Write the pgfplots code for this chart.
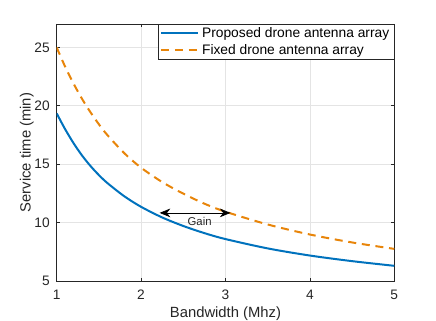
\documentclass[border=0pt]{standalone}
\usepackage{fontspec}
\setmainfont{Liberation Sans}
\usepackage{pgfplots}
\pgfplotsset{compat=1.18}
\usetikzlibrary{arrows.meta}
\definecolor{mblue}{RGB}{0,114,189}
\definecolor{morange}{RGB}{232,133,10}
\definecolor{axgray}{RGB}{38,38,38}
\definecolor{gridgray}{RGB}{228,228,228}
\begin{document}
\begin{tikzpicture}
\begin{axis}[
  name=ax,
  scale only axis, width=253.2pt, height=192.75pt,
  xmin=1, xmax=5, ymin=5, ymax=27,
  xtick={1,2,3,4,5}, ytick={5,10,15,20,25},
  tick align=inside, tick pos=both, major tick length=2.5pt,
  axis line style={axgray, line width=0.5pt},
  every tick/.style={axgray, line width=0.5pt},
  grid=major, major grid style={gridgray, line width=0.5pt},
  /pgf/number format/assume math mode=true,
  tick label style={font=\fontsize{10.3}{12}\selectfont, text=axgray},
  yticklabel style={xshift=-1.7pt},
  xticklabel style={yshift=-3.4pt},
  xlabel={Bandwidth (Mhz)}, ylabel={Service time (min)},
  label style={font=\fontsize{11.1}{13}\selectfont, text=axgray},
  xlabel style={at={([yshift=-27.2pt]axis description cs:0.5,0)}, anchor=base},
  ylabel style={at={([xshift=-19.5pt]axis description cs:0,0.5)}, anchor=base, rotate=0},
  legend style={at={(1,1)}, anchor=north east, draw=axgray, line width=0.5pt, fill=white,
    font=\fontsize{10.35}{12}\selectfont, inner xsep=1pt, inner ysep=0.5pt,
    nodes={inner xsep=2.5pt, inner ysep=1.8pt}},
  legend cell align=left,
  legend image code/.code={\draw[#1] (0pt,0pt) -- (27.5pt,0pt);},
]
\addplot[mblue, line width=1.5pt, smooth, tension=0.5] coordinates {
(1,19.35) (1.1,18.0) (1.2,16.8) (1.3,15.75) (1.4,14.85) (1.5,14.07) (1.6,13.39) (1.8,12.26) (2,11.35) (2.25,10.44) (2.5,9.71) (2.75,9.10) (3,8.59) (3.5,7.79) (4,7.18) (4.5,6.70) (5,6.30)
};
\addlegendentry{Proposed drone antenna array}
\addplot[morange, line width=1.5pt, dash pattern=on 6pt off 4.3pt, smooth, tension=0.5] coordinates {
(1,25.0) (1.1,23.35) (1.2,21.9) (1.3,20.6) (1.4,19.45) (1.5,18.42) (1.6,17.5) (1.8,15.95) (2,14.7) (2.25,13.47) (2.5,12.48) (2.75,11.62) (3,10.93) (3.5,9.84) (4,8.98) (4.5,8.30) (5,7.75)
};
\addlegendentry{Fixed drone antenna array}
\draw[{Stealth[length=8pt,width=6.5pt,inset=2.5pt]}-{Stealth[length=8pt,width=6.5pt,inset=2.5pt]}, line width=0.5pt, black] (axis cs:2.22,10.83) -- (axis cs:3.06,10.83);
\node[font=\fontsize{8.5}{10}\selectfont, text=axgray, anchor=base, inner sep=0pt] at (axis cs:2.694,9.72) {Gain};
\end{axis}
\pgfresetboundingbox
\path[use as bounding box] ([xshift=-42.5pt,yshift=-30pt]ax.south west) rectangle ([xshift=31.3pt,yshift=18pt]ax.north east);
\end{tikzpicture}
\end{document}
